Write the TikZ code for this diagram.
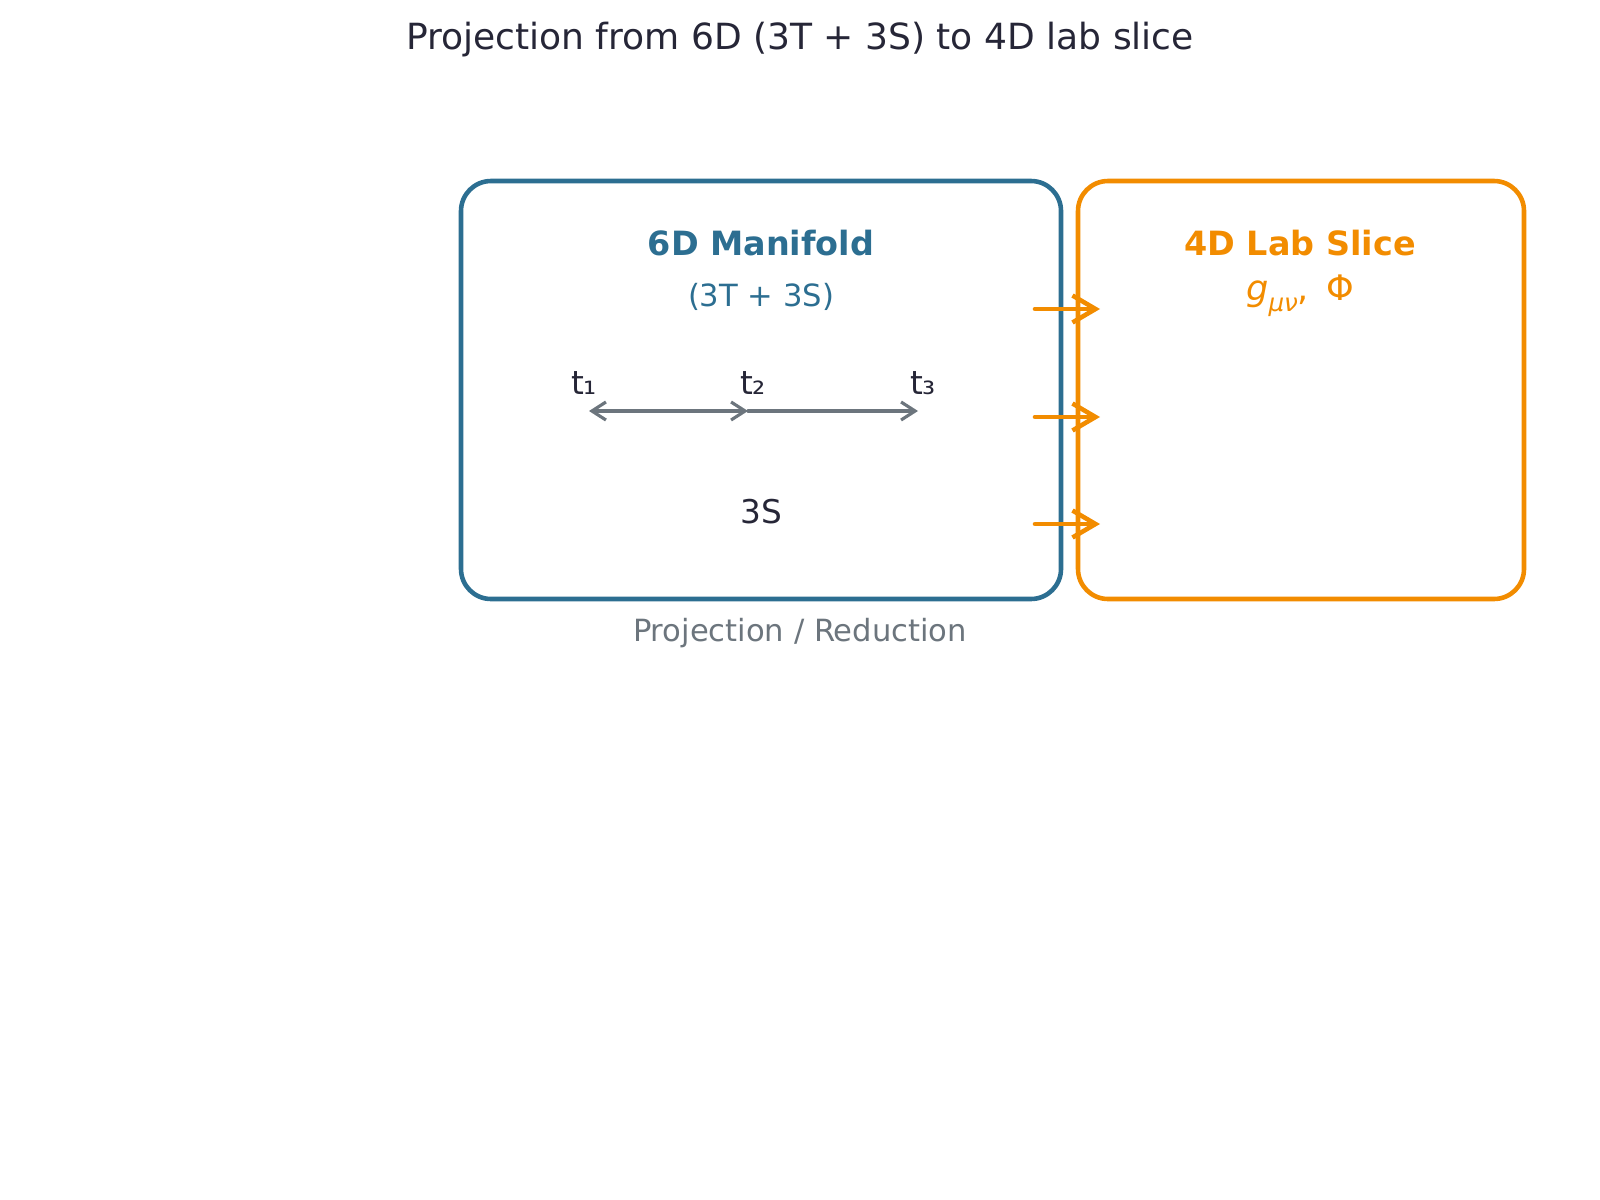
\documentclass[tikz,border=0pt]{standalone}
\usepackage{fontspec}
\setmainfont{DejaVu Sans}
\usetikzlibrary{arrows.meta}
\definecolor{bluec}{HTML}{2C6E91}
\definecolor{orangec}{HTML}{F28C00}
\definecolor{darkc}{HTML}{262637}
\definecolor{grayc}{HTML}{6C757D}
\tikzset{
  box/.style={draw, line width=1.3pt, rounded corners=0.3cm},
  projarrow/.style={draw=orangec, line width=1.3pt, line cap=round, -{Straight Barb[length=2.3mm,width=2.7mm,line width=1.3pt]}},
  timearrow/.style={draw=grayc, line width=0.9pt, line cap=round},
  gtip/.tip={Straight Barb[length=1.4mm,width=1.8mm,line width=0.9pt]},
}
\begin{document}
\begin{tikzpicture}[x=0.01cm,y=-0.01cm]
\useasboundingbox (0,0) rectangle (1600,1200);
% title
\node[text=darkc, font=\fontsize{10.25pt}{12pt}\selectfont] (title) at (800,40) {Projection from 6D (3T + 3S) to 4D lab slice};
% boxes
\draw[box, draw=bluec] (461,181) rectangle (1061,599);
\node (sixbox) at (761,390) {};
\draw[box, draw=orangec] (1078,181) rectangle (1524,599);
\node (fourbox) at (1301,390) {};
\node[text=bluec, font=\bfseries\fontsize{9.5pt}{12pt}\selectfont] (sixtitle) at (761,243) {6D Manifold};
\node[text=bluec, font=\fontsize{8.7pt}{10pt}\selectfont] (sixsub) at (761,297) {(3T + 3S)};
\node[text=orangec, font=\bfseries\fontsize{9.5pt}{12pt}\selectfont] (fourtitle) at (1300,243) {4D Lab Slice};
\node[text=orangec, font=\fontsize{10pt}{12pt}\selectfont] (foursub) at (1300,296) {{\itshape g\raisebox{-0.55ex}{\fontsize{7pt}{8pt}\selectfont μν}},\, Φ};
% time axes
\coordinate (p1) at (589,411);
\coordinate (p2) at (748,411);
\coordinate (p3) at (918,411);
\node[text=darkc, font=\fontsize{9.3pt}{11pt}\selectfont] (t1) at (584,383) {t₁};
\node[text=darkc, font=\fontsize{9.3pt}{11pt}\selectfont] (t2) at (753,383) {t₂};
\node[text=darkc, font=\fontsize{9.3pt}{11pt}\selectfont] (t3) at (923,383) {t₃};
\draw[timearrow, gtip-gtip] (p1) -- (p2);
\draw[timearrow, -gtip] (p2) -- (p3);
\node[text=darkc, font=\fontsize{9.3pt}{11pt}\selectfont] (space) at (761,512) {3S};
% projection arrows
\coordinate (a1s) at (1035,309); \coordinate (a1e) at (1100,309);
\coordinate (a2s) at (1035,417); \coordinate (a2e) at (1100,417);
\coordinate (a3s) at (1035,524); \coordinate (a3e) at (1100,524);
\draw[projarrow] (a1s) -- (a1e);
\draw[projarrow] (a2s) -- (a2e);
\draw[projarrow] (a3s) -- (a3e);
\node[text=grayc, font=\fontsize{8.7pt}{10pt}\selectfont] (caption) at (800,633) {Projection / Reduction};
\end{tikzpicture}
\end{document}
